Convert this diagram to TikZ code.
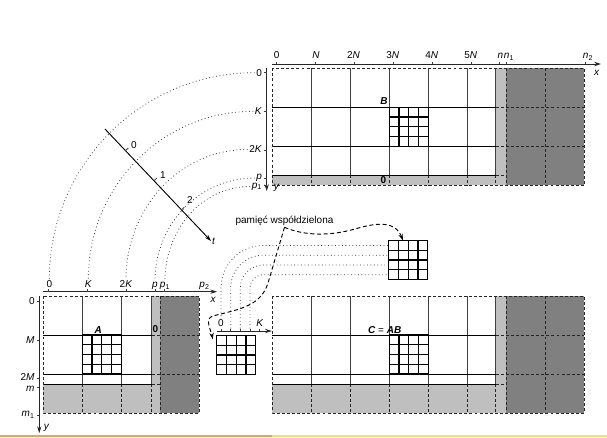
\documentclass[tikz,border=0pt]{standalone}
\usepackage{fontspec}
\setmainfont{Liberation Sans}
\usetikzlibrary{arrows.meta}

\definecolor{padlight}{gray}{0.75}
\definecolor{paddark}{gray}{0.5}
\definecolor{barorange}{RGB}{228,168,78}
\definecolor{baryellow}{RGB}{242,226,104}

\begin{document}
\begin{tikzpicture}[
    x=0.75pt, y=0.75pt,
    >={Stealth[length=5pt, width=3.2pt]},
    every node/.style={font=\fontsize{7.5}{9}\selectfont, inner sep=1pt},
    gline/.style={black!75, line width=0.6pt},
    hline/.style={black, line width=0.6pt},
    padline/.style={black!85, line width=0.6pt, dash pattern=on 2.2pt off 1.6pt},
    subgrid/.style={black, line width=0.9pt},
    axis/.style={->, black!85, line width=0.7pt},
    orbit/.style={black!75, line width=0.6pt, dotted},
    move/.style={->, black, line width=0.7pt, dash pattern=on 3pt off 2pt},
    tile/.style={draw, line width=0.9pt, minimum size=29.25pt, inner sep=0pt, outer sep=0pt}
  ]
  \useasboundingbox (0,0) rectangle (607,-437);

  % Matrix B
  \fill[padlight] (272.3,-68.3) rectangle (506.3,-185.3);
  \fill[paddark]  (506.3,-68.3) rectangle (584.3,-185.3);
  \fill[white]    (272.3,-68.3) rectangle (495.7,-175);
  \foreach \x in {311.3,350.3,389.3,428.3,467.3,495.7} {
    \draw[gline] (\x,-68.3) -- (\x,-175);
    \draw[padline] (\x,-175) -- (\x,-185.3);
  }
  \foreach \y in {107.3,146.3} {
    \draw[hline] (272.3,-\y) -- (495.7,-\y);
    \draw[padline] (495.7,-\y) -- (584.3,-\y);
  }
  \draw[hline] (272.3,-175) -- (495.7,-175);
  \draw[padline] (495.7,-175) -- (506.3,-175);
  \draw[padline] (506.3,-68.3) -- (506.3,-185.3) (545.3,-68.3) -- (545.3,-185.3);
  \draw[padline] (272.3,-68.3) rectangle (584.3,-185.3);
  \draw[subgrid] (389.3,-107.3) rectangle (428.3,-146.3);
  \foreach \i in {1,2,3} {
    \draw[subgrid] (389.3+9.75*\i,-107.3) -- (389.3+9.75*\i,-146.3);
    \draw[subgrid] (389.3,-107.3-9.75*\i) -- (428.3,-107.3-9.75*\i);
  }
  \node (labB) at (384,-101.5) {\textbf{\textit{B}}};
  \node (zeroB) at (383.3,-180) {\textbf{0}};

  % Axes of B
  \draw[axis] (272.3,-64) -- (601,-64);
  \node (bxx) at (596.7,-73.3) {\textit{x}};
  \foreach \x/\lx/\t [count=\i] in {276.7/276.7/0, 315.7/316/\textit{N}, 354.7/353.5/2\textit{N},
      393.7/392.7/3\textit{N}, 432.7/431.7/4\textit{N}, 471.7/470.7/5\textit{N},
      499.5/500.5/\textit{n}, 506.3/509/\textit{n}\textsubscript{1}, 585/588/\textit{n}\textsubscript{2}} {
    \draw[gline] (\x,-64) -- (\x,-61.5);
    \node[anchor=base] (bx\i) at (\lx,-58.5) {\t};
  }
  \draw[axis] (266.7,-68.3) -- (266.7,-191);
  \node (byy) at (276.5,-188) {\textit{y}};
  \foreach \y/\ly/\t [count=\i] in {72.7/72.7/0, 111.3/111.3/\textit{K}, 150/149.5/2\textit{K},
      178/178/\textit{p}, 185/186.5/\textit{p}\textsubscript{1}} {
    \draw[gline] (263.7,-\y) -- (266.7,-\y);
    \node[anchor=east] (by\i) at (263.5,-\ly) {\t};
  }

  % Matrix A
  \fill[padlight] (43.3,-296) rectangle (160.3,-413);
  \fill[paddark]  (160.3,-296) rectangle (199.3,-413);
  \fill[white]    (43.3,-296) rectangle (151.7,-384);
  \foreach \x in {82.3,121.3,151.7} {
    \draw[gline] (\x,-296) -- (\x,-384);
    \draw[padline] (\x,-384) -- (\x,-413);
  }
  \foreach \y in {335,374} {
    \draw[hline] (43.3,-\y) -- (151.7,-\y);
    \draw[padline] (151.7,-\y) -- (199.3,-\y);
  }
  \draw[hline] (43.3,-384) -- (151.7,-384);
  \draw[padline] (151.7,-384) -- (160.3,-384);
  \draw[padline] (160.3,-296) -- (160.3,-413);
  \draw[padline] (43.3,-296) rectangle (199.3,-413);
  \draw[subgrid] (82.3,-335) rectangle (121.3,-374);
  \foreach \i in {1,2,3} {
    \draw[subgrid] (82.3+9.75*\i,-335) -- (82.3+9.75*\i,-374);
    \draw[subgrid] (82.3,-335-9.75*\i) -- (121.3,-335-9.75*\i);
  }
  \node (labA) at (98.3,-330) {\textbf{\textit{A}}};
  \node (zeroA) at (155.5,-329) {\textbf{0}};

  % Axes of A
  \draw[axis] (43.3,-291.7) -- (217,-291.7);
  \node (axx) at (213.3,-300) {\textit{x}};
  \foreach \x/\lx/\t [count=\i] in {48.3/49.3/0, 87.3/88.3/\textit{K}, 126.3/126/2\textit{K},
      155/155/\textit{p}, 164/165/\textit{p}\textsubscript{1}} {
    \draw[gline] (\x,-291.7) -- (\x,-289.2);
    \node[anchor=base] (ax\i) at (\lx,-287.7) {\t};
  }
  \node[anchor=base] (ax6) at (204.5,-287.7) {\textit{p}\textsubscript{2}};
  \draw[axis] (39.3,-296) -- (39.3,-433);
  \node (ayy) at (46.7,-428) {\textit{y}};
  \foreach \y/\ly/\t [count=\i] in {301/301/0, 340/340/\textit{M}, 378.5/377.3/2\textit{M},
      387/388.6/\textit{m}, 415/415/\textit{m}\textsubscript{1}} {
    \draw[gline] (36.5,-\y) -- (39.3,-\y);
    \node[anchor=east, inner sep=0.5pt] (ay\i) at (35.5,-\ly) {\t};
  }

  % Matrix C
  \fill[padlight] (272.3,-296) rectangle (506.3,-413);
  \fill[paddark]  (506.3,-296) rectangle (584.3,-413);
  \fill[white]    (272.3,-296) rectangle (495.7,-384);
  \foreach \x in {311.3,350.3,389.3,428.3,467.3,495.7} {
    \draw[gline] (\x,-296) -- (\x,-384);
    \draw[padline] (\x,-384) -- (\x,-413);
  }
  \foreach \y in {335,374} {
    \draw[hline] (272.3,-\y) -- (495.7,-\y);
    \draw[padline] (495.7,-\y) -- (584.3,-\y);
  }
  \draw[hline] (272.3,-384) -- (495.7,-384);
  \draw[padline] (495.7,-384) -- (506.3,-384);
  \draw[padline] (506.3,-296) -- (506.3,-413) (545.3,-296) -- (545.3,-413);
  \draw[padline] (272.3,-296) rectangle (584.3,-413);
  \draw[subgrid] (389.3,-335) rectangle (428.3,-374);
  \foreach \i in {1,2,3} {
    \draw[subgrid] (389.3+9.75*\i,-335) -- (389.3+9.75*\i,-374);
    \draw[subgrid] (389.3,-335-9.75*\i) -- (428.3,-335-9.75*\i);
  }
  \node (labC) at (384.7,-330) {\textbf{\textit{C}} = \textbf{\textit{AB}}};

  % Time axis
  \coordinate (tbeg) at (105,-129);
  \coordinate (tend) at (211,-241);
  \draw[axis, black] (tbeg) -- (tend) node[anchor=west, inner sep=0.5pt] (labt) {\textit{t}};
  \foreach \x/\lx/\ly/\t [count=\i] in {125.5/134/145/0, 154/163/175/1, 181.5/190/200/2} {
    \draw[gline] (\x,{-129-(\x-105)*1.056}) -- ++(2.9,2.75);
    \node (tt\i) at (\lx,-\ly) {\t};
  }

  % Rows of B to columns of A
  \foreach \i in {1,...,5}
    \draw[orbit] (by\i.west) to[out=180, in=90] (ax\i.north);

  % Shared memory
  \node (shm) at (284.5,-221) {pamięć współdzielona};
  \node[tile] (tileS) at (408.3,-260) {};
  \node[tile] (tileA) at (236.2,-355) {};
  \foreach \n in {tileS,tileA}
    \foreach \i in {1,2,3} {
      \draw[subgrid] ([xshift=\i*7.3125pt]\n.north west) -- ([xshift=\i*7.3125pt]\n.south west);
      \draw[subgrid] ([yshift=-\i*7.3125pt]\n.north west) -- ([yshift=-\i*7.3125pt]\n.north east);
    }
  \draw[axis] (216.7,-331) -- (271.8,-331);
  \node[anchor=base] (sx1) at (221,-326.5) {0};
  \node[anchor=base] (sx2) at (260,-326.5) {\textit{K}};
  \draw[gline] (259.8,-331) -- (259.8,-328.5);
  \foreach \x/\y/\s [count=\i] in {221/245.5/319.5, 230.7/255.2/328.5, 240.3/265/328.5, 250/274.7/328.5} {
    \draw[gline] (\x,-331) -- (\x,-328.5);
    \coordinate (tk\i) at (\x,-\s);
    \coordinate (rw\i) at (388.8,-\y);
    \draw[orbit] (tk\i) -- (\x,-288) to[out=90, in=180] (263.4,-\y) -- (rw\i);
  }
  \draw[move] (shm.south) .. controls (305,-236) and (330,-236) .. (355,-229)
    .. controls (375,-223) and (395,-220) .. ([xshift=-4pt]tileS.north);
  \draw[move] (shm.south) -- (268,-283) to[out=-107, in=15] (213,-316)
    to[out=195, in=100] ([xshift=-3pt, yshift=-3pt]tileA.north west);

  % Page bar
  \fill[barorange] (0,-435.3) rectangle (272,-437);
  \fill[baryellow] (272,-435.3) rectangle (607,-437);
\end{tikzpicture}
\end{document}
